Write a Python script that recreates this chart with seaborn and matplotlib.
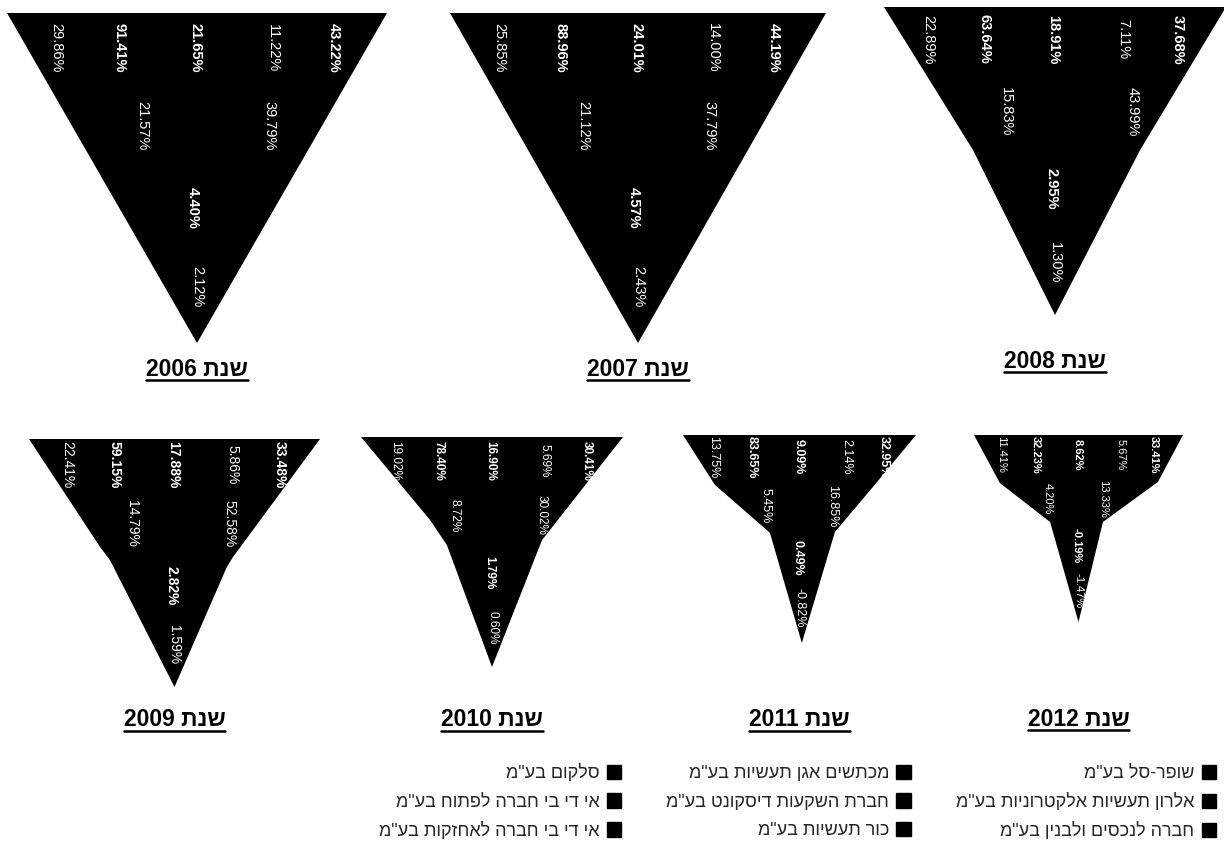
import matplotlib
matplotlib.use("Agg")
import matplotlib.pyplot as plt
from matplotlib.patches import Patch
from matplotlib.lines import Line2D
import seaborn as sns

sns.set_theme(style="white")
plt.rcParams['font.family'] = ['Liberation Sans', 'DejaVu Sans']

# data
years = ["2006", "2007", "2008", "2009", "2010", "2011", "2012"]
v2006 = [29.86, 91.41, 21.65, 11.22, 43.22, 21.57, 39.79, 4.40, 2.12]
v2007 = [25.85, 88.96, 24.01, 14.00, 44.19, 21.12, 37.79, 4.57, 2.43]
v2008 = [22.89, 63.64, 18.91, 7.11, 37.68, 15.83, 43.99, 2.95, 1.30]
v2009 = [22.41, 59.15, 17.88, 5.86, 33.48, 14.79, 52.58, 2.82, 1.59]
v2010 = [19.02, 78.40, 16.90, 5.69, 30.41, 8.72, 30.02, 1.79, 0.60]
v2011 = [13.75, 83.65, 9.09, 2.14, 32.95, 5.45, 16.85, 0.49, -0.82]
v2012 = [11.41, 32.23, 8.62, 5.67, 33.41, 4.20, 13.33, -0.19, -1.47]
values = dict(zip(years, [v2006, v2007, v2008, v2009, v2010, v2011, v2012]))

companies = ['שופר-סל בע"מ', 'אלרון תעשיות אלקטרוניות בע"מ', 'חברה לנכסים ולבנין בע"מ',
             'מכתשים אגן תעשיות בע"מ', 'חברת השקעות דיסקונט בע"מ', 'כור תעשיות בע"מ',
             'סלקום בע"מ', 'אי די בי חברה לפתוח בע"מ', 'אי די בי חברה לאחזקות בע"מ']

# funnel outlines (depth fraction, width fraction) for left and right edge
left_depth = {"2006": [0, 1], "2007": [0, 1], "2008": [0, .464, 1],
              "2009": [0, .435, .488, 1], "2010": [0, .36, .47, 1],
              "2011": [0, .24, .47, 1], "2012": [0, .257, .465, 1]}
left_x = {"2006": [0, .5], "2007": [0, .5], "2008": [0, .26, .5],
          "2009": [0, .244, .278, .5], "2010": [0, .263, .328, .5],
          "2011": [0, .137, .373, .51], "2012": [0, .124, .364, .5]}
right_depth = {"2006": [1, 0], "2007": [1, 0], "2008": [1, .464, 0],
               "2009": [1, .516, .476, 0], "2010": [1, .448, 0],
               "2011": [1, .466, .25, 0], "2012": [1, .465, .251, 0]}
right_x = {"2006": [.5, 1], "2007": [.5, 1], "2008": [.5, .749, 1],
           "2009": [.5, .680, .701, 1], "2010": [.5, .691, 1],
           "2011": [.51, .652, .815, 1], "2012": [.5, .617, .88, 1]}

# layout (pixels): left, top, width, height of each funnel
W, H = 1224, 865
boxes = {"2006": (7, 13, 380, 330), "2007": (450, 13, 376, 330), "2008": (884, 7, 342, 308),
         "2009": (29, 439, 291, 248), "2010": (361, 437, 262, 230),
         "2011": (683, 435, 233, 208), "2012": (974, 435, 209, 187)}
title_y = {"2006": 370, "2007": 370, "2008": 362, "2009": 720, "2010": 720, "2011": 720, "2012": 719}
label_size = {"2006": 10.5, "2007": 10.5, "2008": 10.5, "2009": 10, "2010": 8.5, "2011": 9, "2012": 8}
lab_x = [.13, .295, .495, .70, .86, .355, .69, .49, .50]
lab_y = [.105, .105, .105, .105, .105, .34, .34, .59, .83]
row2_right = {"2008": .728, "2011": .64, "2012": .62}
bold_idx = {1, 2, 4, 7}


def rtl(s):
    out = []
    for w in reversed(s.split(' ')):
        out.append(w[::-1] if any('\u0590' <= c <= '\u05ff' for c in w) else w)
    return ' '.join(out)


fig = plt.figure(figsize=(W / 100, H / 100), dpi=100)
titles = []
for yr in years:
    x0, y0, bw, bh = boxes[yr]
    ax = fig.add_axes([x0 / W, 1 - (y0 + bh) / H, bw / W, bh / H])
    xs = left_x[yr] + right_x[yr]
    ys = left_depth[yr] + right_depth[yr]
    ax.fill(xs, ys, color='black', lw=0)
    ax.set_xlim(0, 1)
    ax.set_ylim(1, 0)
    ax.axis('off')
    for i, v in enumerate(values[yr]):
        lx = row2_right.get(yr, lab_x[i]) if i == 6 else lab_x[i]
        ax.text(lx, lab_y[i], f"{v:.2f}%", rotation=-90, ha='center', va='center',
                color='white', fontsize=label_size[yr],
                fontweight='bold' if i in bold_idx else 'normal')
    t = fig.text((x0 + bw / 2) / W, 1 - title_y[yr] / H, rtl(f"שנת {yr}"),
                 ha='center', va='center', fontsize=16.5, fontweight='bold', color='black')
    titles.append(t)

order = companies[6:9] + companies[3:6] + companies[0:3]
handles = [Patch(facecolor='black', edgecolor='black') for _ in order]
fig.legend(handles, [rtl(c) for c in order], ncol=3, markerfirst=False, frameon=False,
           loc='upper right', bbox_to_anchor=(1216 / W, 1 - 764 / H), borderaxespad=0,
           borderpad=0, fontsize=13, handlelength=0.8, handleheight=0.85,
           handletextpad=0.4, labelspacing=0.62, columnspacing=2.5)

fig.canvas.draw()
inv = fig.transFigure.inverted()
for t in titles:
    bb = t.get_window_extent()
    (a, b), (c, d) = inv.transform([(bb.x0, bb.y0 + 1), (bb.x1, bb.y0 + 1)])
    fig.add_artist(Line2D([a, c], [b, d], color='black', lw=1.8, transform=fig.transFigure))

fig.savefig("out.png", dpi=100)
